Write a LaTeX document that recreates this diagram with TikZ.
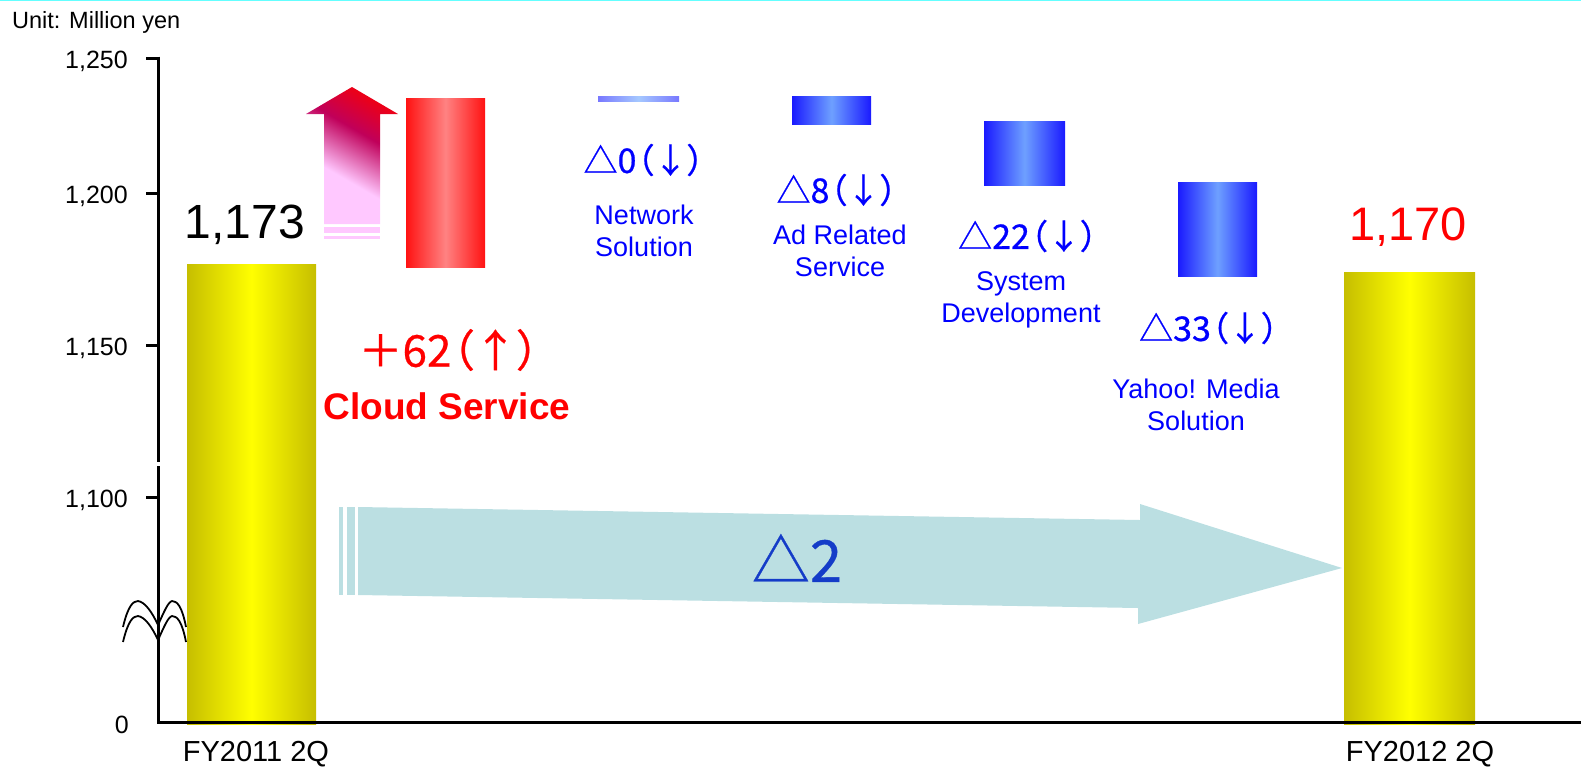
\documentclass[tikz,border=0pt]{standalone}
\usepackage{fontspec}
\setmainfont{Liberation Sans}
\newfontfamily\jpfont[RawFeature=+palt,FakeBold=0.6]{Noto Sans CJK JP}
\usetikzlibrary{positioning}

\newcommand{\fsz}[2]{\fontsize{#1}{#2}\selectfont}
\definecolor{barolive}{RGB}{198,190,0}
\definecolor{baryellow}{RGB}{255,255,0}
\definecolor{redege}{RGB}{255,18,18}
\definecolor{redmid}{RGB}{255,130,130}
\definecolor{blueedge}{RGB}{26,26,255}
\definecolor{bluemid}{RGB}{110,160,255}
\definecolor{nsedge}{RGB}{120,120,255}
\definecolor{nsmid}{RGB}{165,200,255}
\definecolor{shiftteal}{RGB}{187,223,226}
\definecolor{cupink}{RGB}{255,200,255}
\definecolor{cumag}{RGB}{192,0,90}
\definecolor{cured}{RGB}{235,0,25}
\definecolor{deltablue}{RGB}{20,60,200}
\definecolor{topcyan}{RGB}{100,255,255}
\pgfdeclareverticalshading{cloudup}{100bp}{color(0bp)=(cupink); color(40bp)=(cupink);
  color(60bp)=(cumag); color(74bp)=(cured); color(100bp)=(cured)}

\begin{document}
\begin{tikzpicture}[x=1pt,y=-1pt,
   axisline/.style={line width=3pt},
   breakwave/.style={line width=1.8pt},
   ybar/.style={left color=barolive,right color=barolive,middle color=baryellow},
   rbar/.style={left color=redege,right color=redege,middle color=redmid},
   bbar/.style={left color=blueedge,right color=blueedge,middle color=bluemid},
   nbar/.style={left color=nsedge,right color=nsedge,middle color=nsmid},
   ticklbl/.style={anchor=east,inner sep=0pt,font=\fsz{25}{29}},
   catlbl/.style={inner sep=0pt,font=\fsz{29}{34}},
   segdelta/.style={inner sep=0pt,text=blue,font=\jpfont\fsz{34}{40}},
   segname/.style={inner sep=0pt,text=blue,align=center,font=\fsz{27}{32}}]
  \useasboundingbox (0,0) rectangle (1581,769);
  \draw[topcyan,line width=1.5pt] (0,0.5) -- (1581,0.5);

  % bars
  \fill[ybar] (187,264) rectangle (316,724);
  \fill[ybar] (1344,272) rectangle (1475,724);
  \fill[rbar] (406,98) rectangle (485,267);
  \fill[nbar] (598,96) rectangle (679,101);
  \fill[bbar] (792,96) rectangle (871,124);
  \fill[bbar] (984,121) rectangle (1065,185);
  \fill[bbar] (1178,182) rectangle (1257,276);

  % overall change arrow
  \fill[shiftteal] (358,507) -- (1140,520) -- (1140,504) -- (1342,568)
     -- (1138,624) -- (1138,608) -- (358,595) -- cycle;
  \fill[shiftteal] (339,507) rectangle (343,595);
  \fill[shiftteal] (347,507) rectangle (355,595);

  % rising arrow
  \shade[shading=cloudup,shading angle=-30] (324,224) -- (324,114) -- (306,114)
     -- (352,87) -- (398,114) -- (380,114) -- (380,224) -- cycle;
  \fill[cupink] (324,227) rectangle (380,233);
  \fill[cupink] (324,236) rectangle (380,239);

  % axes
  \draw[axisline] (158,56.5) -- (158,462);
  \draw[axisline] (158,466) -- (158,722) -- (1581,722);
  \foreach \ty in {58,193,345,497}
    \draw[axisline] (146,\ty) -- (158,\ty);
  \draw[breakwave] (123,627) .. controls (128,606) and (133,601) .. (138,601)
     .. controls (145,602) and (152,612) .. (158,625)
     .. controls (164,612) and (168,602) .. (172,601)
     .. controls (177,601) and (182,606) .. (186,627);
  \draw[breakwave] (123,642) .. controls (128,621) and (133,616) .. (138,616)
     .. controls (145,617) and (152,627) .. (158,640)
     .. controls (164,627) and (168,617) .. (172,616)
     .. controls (177,616) and (182,621) .. (186,642);

  \node[anchor=west,inner sep=0pt,font=\fsz{23.5}{28}] (unit) at (12,22) {Unit: Million yen};
  \node[ticklbl] (t1250) at (128,61) {1,250};
  \node[ticklbl] (t1200) at (128,196) {1,200};
  \node[ticklbl] (t1150) at (128,348) {1,150};
  \node[ticklbl] (t1100) at (128,500) {1,100};
  \node[ticklbl] (t0) at (129,725) {0};

  \node[catlbl] (fy11) at (256,754) {FY2011 2Q};
  \node[catlbl] (fy12) at (1420,754) {FY2012 2Q};
  \node[inner sep=0pt,font=\fsz{48}{56}] (v11) at (245,225) {1,173};
  \node[inner sep=0pt,text=red,font=\fsz{47}{55}] (v12) at (1408,227) {1,170};

  \node[inner sep=0pt,text=red,font=\jpfont\fsz{44}{50}] (clouddelta) at (449,350) {＋62（↑）};
  \node[inner sep=0pt,text=red,font=\bfseries\fsz{37}{43}] (cloudname) at (447,406) {Cloud Service};

  \node[segdelta] (netdelta) at (644,160) {△0（↓）};
  \node[segname] (netname) at (644,231) {Network\\Solution};
  \node[segdelta] (addelta) at (837,190) {△8（↓）};
  \node[segname] (adname) at (840,251) {Ad Related\\Service};
  \node[segdelta] (sysdelta) at (1028,236) {△22（↓）};
  \node[segname] (sysname) at (1021,300) {System\\Development};
  \node[segdelta] (yahoodelta) at (1209,328) {△33（↓）};
  \node[segname] (yahooname) at (1196,405) {Yahoo! Media\\Solution};

  \node[inner sep=0pt,text=deltablue,font=\jpfont\fsz{58}{66}] (total) at (797,558) {△2};
\end{tikzpicture}
\end{document}
